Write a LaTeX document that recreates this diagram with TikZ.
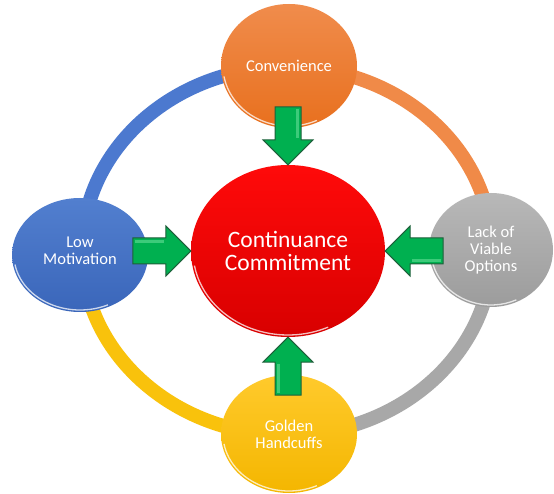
\documentclass[tikz,border=0pt]{standalone}
\usepackage{fontspec}
\setmainfont{Carlito}
\usetikzlibrary{shapes.geometric}
\definecolor{oT}{HTML}{F08C4C}\definecolor{oB}{HTML}{E8701E}\definecolor{oR}{HTML}{F08A48}
\definecolor{bT}{HTML}{527FCF}\definecolor{bB}{HTML}{3A66BA}\definecolor{bR}{HTML}{4C79CF}
\definecolor{gT}{HTML}{B8B8B8}\definecolor{gB}{HTML}{9C9C9C}\definecolor{gR}{HTML}{A8A8A8}
\definecolor{yT}{HTML}{FFCA2C}\definecolor{yB}{HTML}{F4B600}\definecolor{yR}{HTML}{F9C20C}
\definecolor{rT}{HTML}{FF0A0A}\definecolor{rB}{HTML}{D80000}
\definecolor{grn}{HTML}{00B050}\definecolor{grnL}{HTML}{3CCB7A}\definecolor{grnD}{HTML}{1E5F3A}
\tikzset{
  bub/.style={ellipse, inner sep=0pt, text=white, align=center,
    font=\fontsize{16.5}{17}\selectfont},
  ringseg/.style={line width=14pt, line cap=butt},
  rim/.style={draw=white, line width=1.3pt, opacity=0.75},
  gar/.style={fill=grn, draw=grnD, line width=1pt, line join=miter},
  garhl/.style={draw=grnL, line width=2.5pt},
  garrow/.pic={\path[gar] (0,0) -- (-25,25) -- (-25,13) -- (-58,13) -- (-58,-13) -- (-25,-13) -- (-25,-25) -- cycle;
    \draw[garhl] (-56,9.5) -- (-27,9.5);}
}
\newcommand\rimhl[3]{\draw[rim] ([shift={(190:#2 and #3)}]#1.center) arc[start angle=190, end angle=295, x radius=#2, y radius=#3];}
\begin{document}
\begin{tikzpicture}[x=1pt,y=1pt]
\useasboundingbox[fill=white] (0,0) rectangle (554,493);
% ring
\coordinate (rc) at (287,242);
\draw[ringseg, draw=oR] (287,426) arc[start angle=90, end angle=0, x radius=205pt, y radius=184pt];
\draw[ringseg, draw=gR] (492,242) arc[start angle=0, end angle=-90, x radius=205pt, y radius=184pt];
\draw[ringseg, draw=yR] (287,58) arc[start angle=-90, end angle=-180, x radius=205pt, y radius=184pt];
\draw[ringseg, draw=bR] (82,242) arc[start angle=180, end angle=90, x radius=205pt, y radius=184pt];
% nodes
\node[bub, minimum width=136pt, minimum height=124pt, top color=oT, bottom color=oB] (conv) at (289,427) {Convenience};
\node[bub, minimum width=136pt, minimum height=114pt, top color=bT, bottom color=bB,
  label={[text=white, align=center, font=\fontsize{16.5}{17}\selectfont, yshift=4pt]center:Low\\Motivation}] (lowm) at (80,238) {};
\node[bub, minimum width=124pt, minimum height=114pt, top color=gT, bottom color=gB] (lack) at (491,243) {Lack of\\Viable\\Options};
\node[bub, minimum width=136pt, minimum height=118pt, top color=yT, bottom color=yB] (gold) at (289,59) {Golden\\Handcuffs};
\node[bub, minimum width=194pt, minimum height=172pt, top color=rT, bottom color=rB,
  font=\fontsize{23.5}{23}\selectfont] (cc) at (288,242) {Continuance\\Commitment};
\rimhl{conv}{66pt}{60pt}
\rimhl{lowm}{66pt}{55pt}
\rimhl{lack}{60pt}{55pt}
\rimhl{gold}{66pt}{57pt}
\rimhl{cc}{95pt}{84pt}
% arrows
\pic[rotate=-90] at (cc.north) {garrow};
\pic[rotate=0] at (cc.west) {garrow};
\pic[rotate=180] at (cc.east) {garrow};
\pic[rotate=90] at (cc.south) {garrow};
\end{tikzpicture}
\end{document}
